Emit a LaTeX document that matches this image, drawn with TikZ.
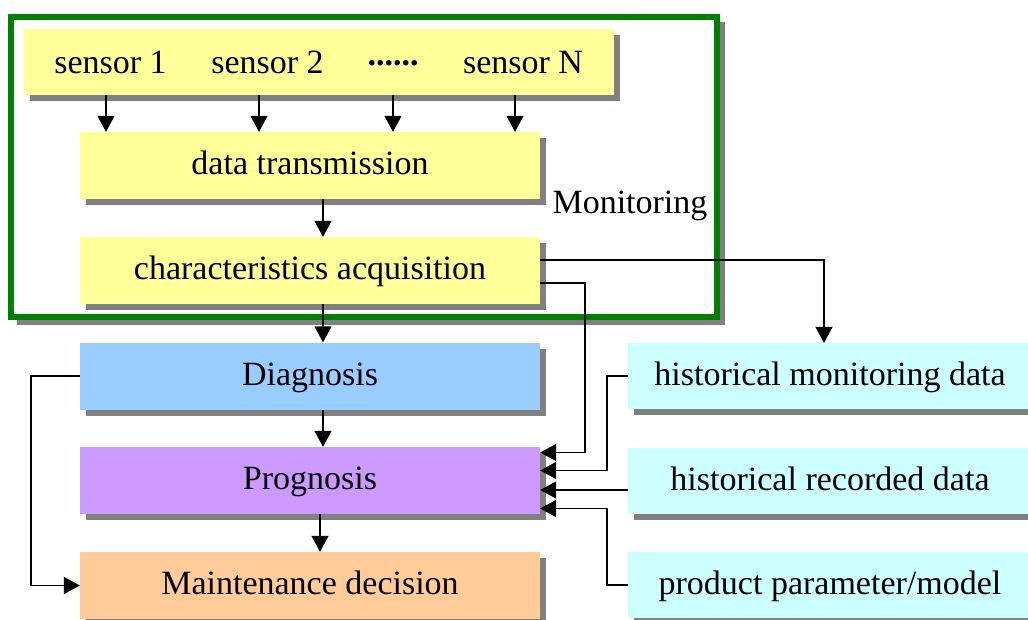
\documentclass[tikz,border=0pt]{standalone}
\usepackage{fontspec}
\setmainfont{Liberation Serif}
\usetikzlibrary{arrows.meta,shadows}
\definecolor{boxyellow}{HTML}{FFFF99}
\definecolor{diagblue}{HTML}{99CCFF}
\definecolor{progpurple}{HTML}{CC99FF}
\definecolor{maintorange}{HTML}{FFCC99}
\definecolor{histcyan}{HTML}{CCFFFF}
\definecolor{shadowgray}{HTML}{808080}
\definecolor{framegreen}{HTML}{008000}
\begin{document}
\begin{tikzpicture}[x=1pt,y=-1pt,
  every node/.style={font=\fontsize{34}{40}\selectfont},
  box/.style={rectangle, inner sep=0pt, text height=24pt, text depth=6pt,
    drop shadow={shadow xshift=6pt, shadow yshift=-6pt, fill=shadowgray, opacity=1}},
  leftbox/.style={box, minimum width=460pt, minimum height=67pt},
  rightbox/.style={box, minimum width=404pt, minimum height=66pt},
  arr/.style={-{Triangle[width=17pt,length=16pt]}, line width=1.4pt}]
\useasboundingbox (0,0) rectangle (1028,619);
\clip (0,0) rectangle (1028,619);

% monitoring frame with its shadow
\draw[shadowgray, line width=6pt] (722,22) -- (722,322) -- (17,322);
\draw[framegreen, line width=6pt] (11,16.5) rectangle (716.5,316.5);

% sensor row
\node[box, fill=boxyellow, minimum width=590pt, minimum height=66pt] (sensors) at (319,62) {};
\node[anchor=base] (s1) at (110.5,73) {sensor 1};
\node[anchor=base] (s2) at (267.5,73) {sensor 2};
\node (sd) at (393,63) {\textbf{......}};
\node[anchor=base] (sN) at (523,73) {sensor N};

% processing chain
\node[leftbox, fill=boxyellow] (trans) at (310,165.5) {data transmission};
\node[leftbox, fill=boxyellow] (acq) at (310,270.5) {characteristics acquisition};
\node[anchor=base west] (mon) at (549,213) {Monitoring};
\node[leftbox, fill=diagblue] (diag) at (310,376) {Diagnosis};
\node[leftbox, fill=progpurple] (prog) at (310,480.5) {Prognosis};
\node[leftbox, fill=maintorange] (maint) at (310,585.5) {Maintenance decision};

% data sources
\node[rightbox, fill=histcyan] (hm) at (830,376) {historical monitoring data};
\node[rightbox, fill=histcyan] (hr) at (830,481) {historical recorded data};
\node[rightbox, fill=histcyan] (pp) at (830,585) {product parameter/model};

% sensors to transmission
\foreach \x [count=\i] in {106,259,393,515} {
  \coordinate (c\i) at (\x,0);
  \draw[arr] (c\i |- sensors.south) -- (c\i |- trans.north);
}

% main vertical flow
\coordinate (mid) at (323,0);
\coordinate (mid2) at (320,0);
\draw[arr] (mid |- trans.south) -- (mid |- acq.north);
\draw[arr] (mid |- acq.south) -- (mid |- diag.north);
\draw[arr] (mid |- diag.south) -- (mid |- prog.north);
\draw[arr] (mid2 |- prog.south) -- (mid2 |- maint.north);

% diagnosis straight to maintenance
\coordinate (fb) at (31,0);
\draw[arr] (diag.west) -- (fb |- diag.west) |- (maint.west);

% acquisition outputs
\coordinate (j1) at (824,260);
\draw[arr] (acq.east |- j1) -| (j1 |- hm.north);
\coordinate (j2) at (585,283);
\coordinate (pin1) at ([yshift=28pt]prog.east);
\coordinate (pin2) at ([yshift=10pt]prog.east);
\coordinate (pin3) at ([yshift=-9.5pt]prog.east);
\coordinate (pin4) at ([yshift=-28pt]prog.east);
\draw[arr] (acq.east |- j2) -- (j2) |- (pin1);

% data sources into prognosis
\coordinate (j3) at (607,0);
\draw[arr] (hm.west) -- (j3 |- hm.west) |- (pin2);
\draw[arr] (hr.west |- pin3) -- (pin3);
\draw[arr] (pp.west) -- (j3 |- pp.west) |- (pin4);
\end{tikzpicture}
\end{document}
